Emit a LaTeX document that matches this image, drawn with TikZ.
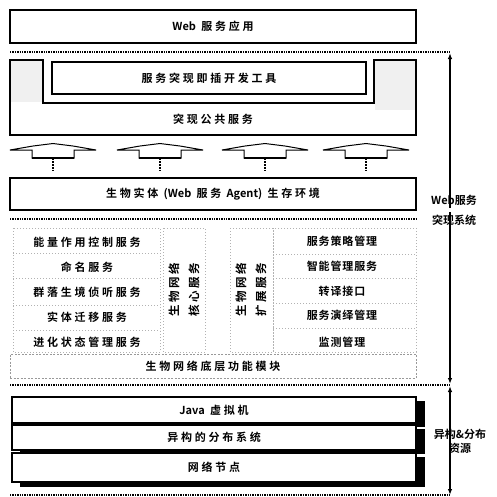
\documentclass[tikz,border=0pt]{standalone}
\usepackage{fontspec}
\setmainfont{Noto Sans CJK SC}[BoldFont={Noto Sans CJK SC Bold}]
\usetikzlibrary{arrows.meta}
\newcommand{\lat}[1]{{\addfontfeature{LetterSpace=0}#1}}
\begin{document}
\begin{tikzpicture}[x=1pt,y=-1pt,
  txt/.style={font=\fontsize{11}{13}\selectfont\bfseries\addfontfeature{LetterSpace=25}},
  stxt/.style={font=\fontsize{11}{13}\selectfont\bfseries\addfontfeature{LetterSpace=8}},
  vtxt/.style={font=\fontsize{11.5}{20}\selectfont\bfseries\addfontfeature{LetterSpace=22}, rotate=90, align=center},
  boxa/.style={draw, line width=1.1pt, inner sep=0pt},
  heavybox/.style={draw, line width=1.8pt, fill=white, inner sep=0pt},
  dotsep/.style={line width=1.3pt, dash pattern=on 1.3pt off 1.1pt},
  light/.style={draw=gray!60, line width=0.5pt, dash pattern=on 1pt off 2pt},
  midbox/.style={draw=gray!80, line width=0.7pt, dash pattern=on 2pt off 1.5pt, inner sep=0pt},
  arr/.style={line width=1.3pt, -{Latex[length=6pt,width=4.5pt]}},
  blockarr/.style={draw, line width=1pt, fill=white},
  stem/.style={line width=1.2pt, dash pattern=on 2pt off 1pt}
]
\useasboundingbox (0,0) rectangle (497,496);

% top box
\node[boxa, minimum width=406pt, minimum height=33pt, txt] (webapp) at (213,26.5) {\lat{Web} 服务应用};
\draw[dotsep] (10,52) -- (450,52);

% U-shaped common services
\draw[line width=1.1pt, fill=white] (10,60) -- (43,60) -- (43,103) -- (374,103) -- (374,60) -- (416,60) -- (416,135) -- (10,135) -- cycle;
\fill[gray!12] (10.6,60.6) rectangle (42.4,102.4);
\fill[gray!12] (374.6,60.6) rectangle (415.4,110);
\node[txt] (common) at (213,119) {突现公共服务};
\node[boxa, minimum width=314pt, minimum height=32pt, txt] (tool) at (209,78) {服务突现即插开发工具};

% block arrows
\foreach \cx/\nm in {53/b1,160/b2,265/b3,366/b4}{
  \coordinate (\nm) at (\cx,158);
  \draw[blockarr] (\cx-43,150) -- (\cx-20,146) -- (\cx,143.5) -- (\cx+20,146) -- (\cx+43,150)
     -- (\cx+21,150) -- (\cx+21,158) -- (\cx-21,158) -- (\cx-21,150) -- cycle;
  \draw[line width=1.8pt] (\cx-21,158) -- (\cx+21,158);
  \draw[stem] (\nm) -- (\cx,171);
}

% environment box
\node[boxa, minimum width=406pt, minimum height=32pt, txt] (env) at (213,194) {生物实体 (\lat{Web} 服务 \lat{Agent}) 生存环境};
\draw[dotsep] (10,219) -- (416,219);

% left services
\draw[light] (13,228) rectangle (160,352);
\foreach \yy in {253,278,305,330}{\draw[light] (13,\yy) -- (160,\yy);}
\node[txt] (l1) at (87,242) {能量作用控制服务};
\node[txt] (l2) at (87,267) {命名服务};
\node[txt] (l3) at (87,292) {群落生境侦听服务};
\node[txt] (l4) at (87,317) {实体迁移服务};
\node[txt] (l5) at (87,342) {进化状态管理服务};

% vertical columns
\draw[light] (163,228) rectangle (205,352);
\draw[light] (230,228) rectangle (273,352);
\node[vtxt] (core) at (184,290) {生物网络\\核心服务};
\node[vtxt] (ext) at (251,290) {生物网络\\扩展服务};

% right services
\draw[light] (273,228) rectangle (416,352);
\foreach \yy in {254,278,303,328}{\draw[light] (273,\yy) -- (416,\yy);}
\node[stxt] (r1) at (342,241) {服务策略管理};
\node[stxt] (r2) at (342,266) {智能管理服务};
\node[stxt] (r3) at (342,291) {转译接口};
\node[stxt] (r4) at (342,315) {服务演绎管理};
\node[stxt] (r5) at (342,342) {监测管理};

% bottom function module
\node[midbox, minimum width=406pt, minimum height=24pt, txt] (bottom) at (213,366) {生物网络底层功能模块};
\draw[dotsep] (10,385) -- (450,385);

% resource boxes with shadow
\fill (20,401) rectangle (425,427);
\node[heavybox, minimum width=404pt, minimum height=26pt, txt] (java) at (214,410) {\lat{Java} 虚拟机};
\fill (20,429) rectangle (425,454);
\node[heavybox, minimum width=404pt, minimum height=25pt, txt] (dist) at (214,437.5) {异构的分布系统};
\fill (20,457) rectangle (425,487);
\node[heavybox, minimum width=404pt, minimum height=29pt, txt] (node) at (214,467.5) {网络节点};
\draw[dotsep] (10,495) -- (450,495);

% right side labels and double arrows
\coordinate (t1) at (450,53);
\coordinate (t2) at (450,384);
\coordinate (t3) at (450,386);
\coordinate (t4) at (450,495);
\node[font=\fontsize{11}{20}\selectfont\bfseries, align=center, inner sep=0pt] (wsys) at (454,210) {Web服务\\突现系统};
\draw[arr] ([yshift=-13pt]wsys.north -| t1) -- (t1);
\draw[arr] ([yshift=13pt]wsys.south -| t2) -- (t2);
\node[font=\fontsize{11}{14}\selectfont\bfseries, align=center, inner sep=0pt] (rsys) at (460,441) {异构\&分布\\资源};
\draw[arr] ([yshift=-20pt]rsys.north -| t3) -- (t3);
\draw[arr] ([yshift=18pt]rsys.south -| t4) -- (t4);
\end{tikzpicture}
\end{document}
